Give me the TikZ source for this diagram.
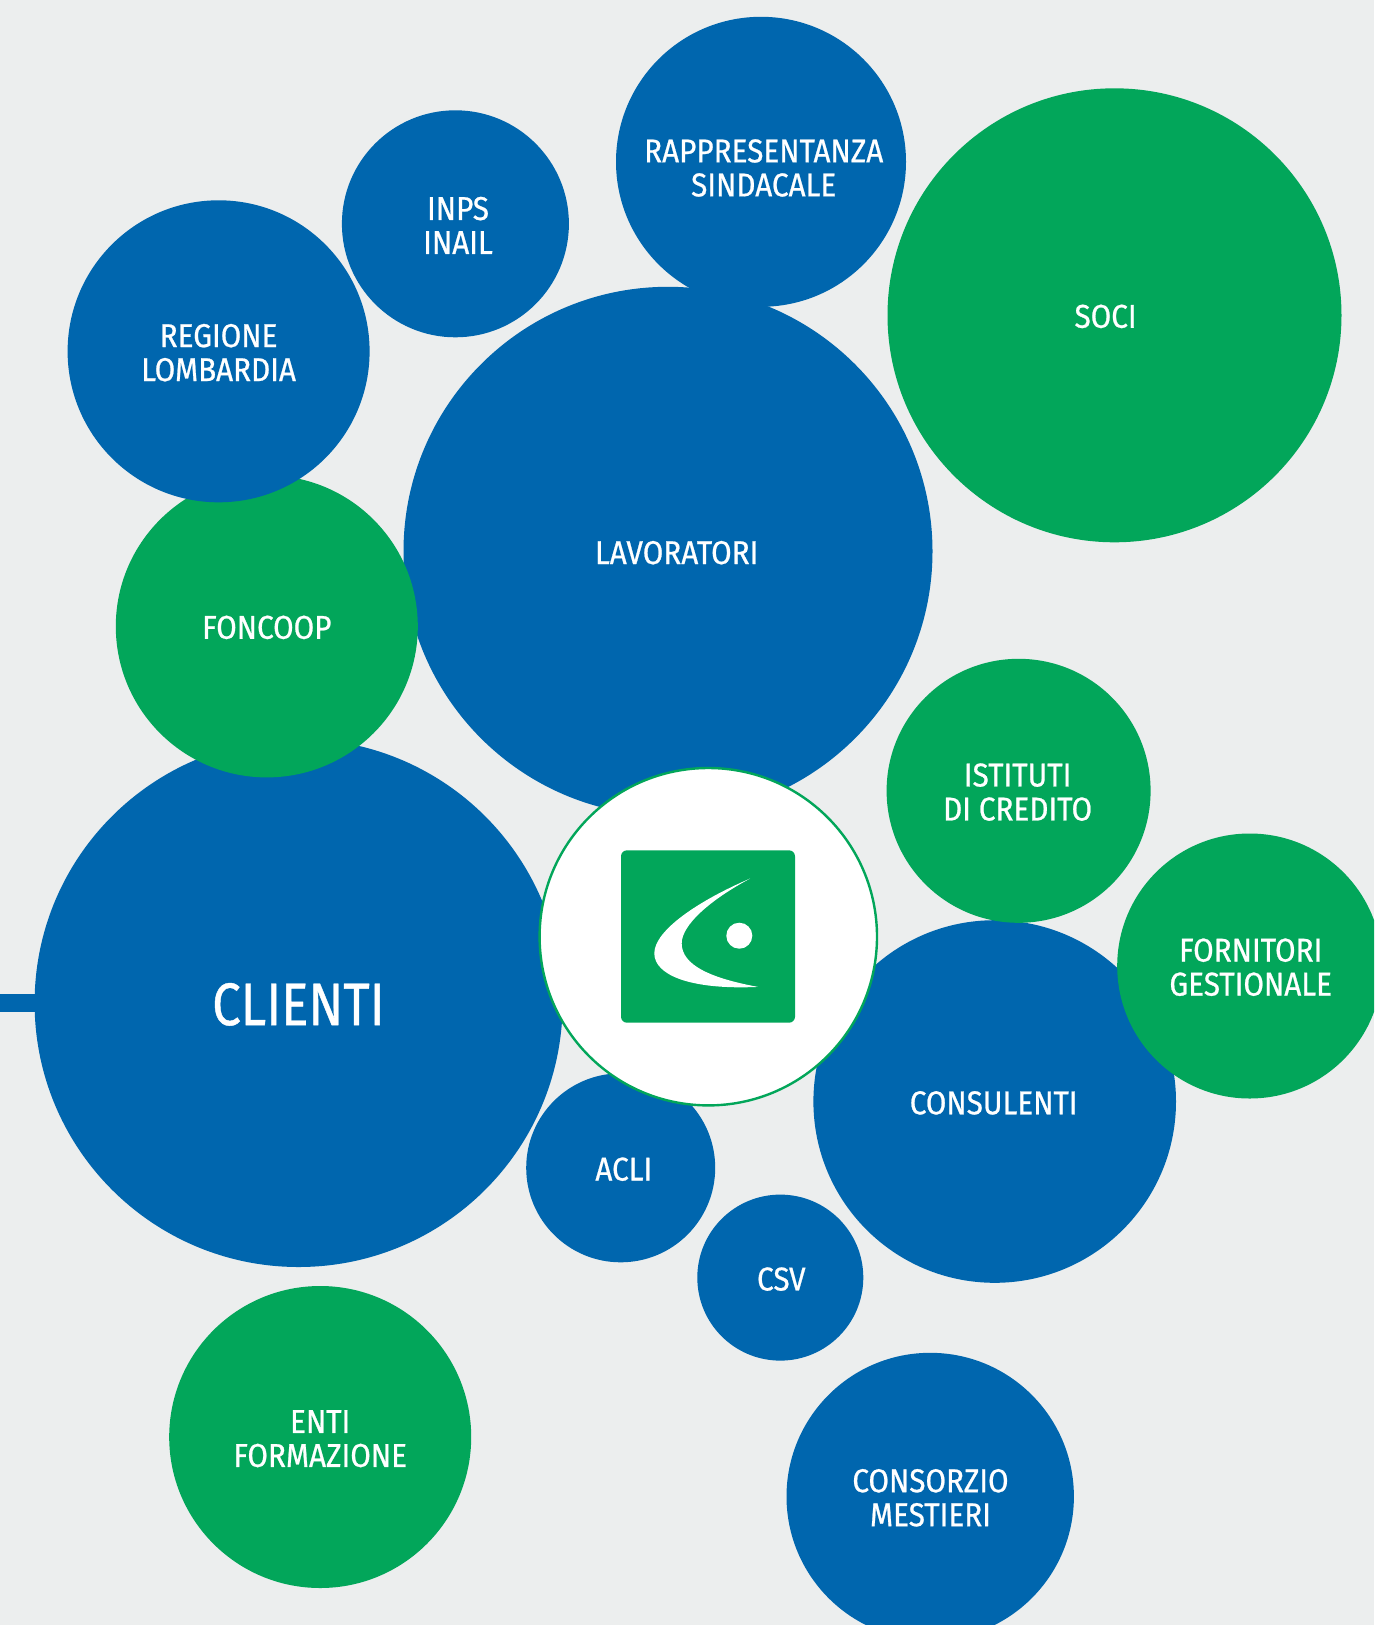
\documentclass[tikz,border=0pt]{standalone}
\usepackage{fontspec}
\setmainfont[FakeStretch=0.9,FakeBold=0.7]{Fira Sans}
\newfontfamily\bigfont[FakeStretch=0.85,FakeBold=0.7]{Fira Sans}
\definecolor{bg}{HTML}{ECEEEE}
\definecolor{cblue}{HTML}{0066AE}
\definecolor{cgreen}{HTML}{02A65A}
\tikzset{
  bub/.style={circle,inner sep=0pt,outer sep=0pt,minimum size=#1},
  blueb/.style={bub=#1,fill=cblue},
  greenb/.style={bub=#1,fill=cgreen},
  lab/.style={text=white,align=center,inner sep=0pt,yshift=-0.4pt,font=\fontsize{33}{34}\selectfont},
  biglab/.style={text=white,align=center,inner sep=0pt,font=\bigfont\fontsize{60}{62}\selectfont},
}
\begin{document}
\begin{tikzpicture}[x=1pt,y=-1pt]
\fill[bg] (0,0) rectangle (1374,1625);
\useasboundingbox (0,0) rectangle (1374,1625);
\clip (0,0) rectangle (1374,1625);
\node[blueb=290] (rapp) at (761,161.8) {};
\node[blueb=529] (lav) at (668,551.3) {};
\node[greenb=454] (soci) at (1114.5,315.3) {};
\node[blueb=227] (inps) at (455.4,223.8) {};
\node[blueb=528] (cli) at (298.6,1003) {};
\coordinate (barstart) at (0,1003);
\draw[cblue,line width=18.7pt,shorten >=-3pt] (barstart) -- (cli.west);
\node[greenb=302] (fon) at (266.8,626.4) {};
\node[blueb=302] (reg) at (218.6,351.3) {};
\node[blueb=362.6] (cons) at (994.7,1101.5) {};
\node[greenb=264] (ist) at (1018.6,790.8) {};
\node[greenb=265] (forn) at (1249.7,966) {};
\node[blueb=189] (acli) at (620.7,1167.8) {};
\node[blueb=166] (csv) at (780.3,1277.6) {};
\node[greenb=302] (enti) at (320.2,1437) {};
\node[blueb=287.4] (mest) at (930.2,1496.5) {};
\node[circle,inner sep=0pt,outer sep=0pt,minimum size=337.4,fill=white,draw=cgreen,line width=2.4pt] (logo) at (708.3,936.7) {};
\fill[cgreen,rounded corners=6pt] (621,850.3) rectangle (795,1022.7);
\fill[white] (750,878.6) .. controls (700,900) and (654.3,930) .. (654.3,953.3)
  .. controls (654.3,975) and (690,990) .. (758,986.9)
  .. controls (710,978) and (681.7,965) .. (681.7,943.3)
  .. controls (681.7,925) and (710,900) .. (750,878.6) -- cycle;
\fill[white] (739.3,935.7) circle (13);
\node[lab] (trapp) at (763.7,167.6) {RAPPRESENTANZA\\SINDACALE};
\node[lab] (tinps) at (458,225) {INPS\\INAIL};
\node[lab] (treg) at (218.6,352.3) {REGIONE\\LOMBARDIA};
\node[lab] (tlav) at (676.7,552.3) {LAVORATORI};
\node[lab] (tfon) at (266.8,627) {FONCOOP};
\node[lab] (tsoci) at (1105.6,316) {SOCI};
\node[lab] (tist) at (1017.6,791.7) {ISTITUTI\\DI CREDITO};
\node[lab] (tforn) at (1250.7,966.8) {FORNITORI\\GESTIONALE};
\node[biglab] (tcli) at (298.5,1004.4) {CLIENTI};
\node[lab] (tcons) at (993.7,1102.5) {CONSULENTI};
\node[lab] (tacli) at (623.8,1168.8) {ACLI};
\node[lab] (tcsv) at (781.3,1278.7) {CSV};
\node[lab] (tenti) at (320.2,1438.3) {ENTI\\FORMAZIONE};
\node[lab] (tmest) at (930.5,1497.4) {CONSORZIO\\MESTIERI};
\end{tikzpicture}
\end{document}
